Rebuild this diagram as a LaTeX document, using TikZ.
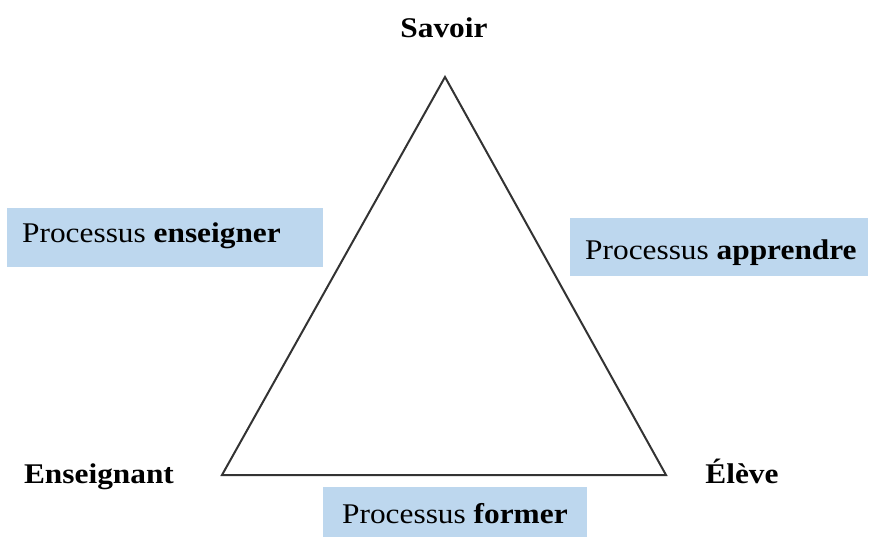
\documentclass[tikz,border=0pt]{standalone}
\usepackage{fontspec}
\setmainfont[FakeStretch=1.1]{Liberation Serif}
\definecolor{boxblue}{HTML}{BDD7EE}
\begin{document}
\begin{tikzpicture}[x=1pt,y=-1pt,
  procbox/.style={fill=boxblue, draw=none, inner sep=0pt, anchor=north west},
  lbl/.style={font=\fontsize{28.5}{32}\selectfont, inner sep=0pt, anchor=base west},
  vlbl/.style={font=\fontsize{28.5}{32}\selectfont\bfseries, inner sep=0pt, anchor=base},
  edge/.style={line width=2pt, draw=black!80, line join=miter}]
\useasboundingbox (0,0) rectangle (873,537);
% triangle vertices
\coordinate (S) at (445,77);
\coordinate (E) at (222,475);
\coordinate (L) at (666,475);
\draw[edge] (S) -- (E) -- (L) -- cycle;
% vertex labels
\node[vlbl] (savoir) at (444,38) {Savoir};
\node[vlbl] (ens) at (99,483) {Enseignant};
\node[vlbl] (eleve) at (742,483) {Élève};
% process boxes
\node[procbox, minimum width=316pt, minimum height=59pt] (b1) at (7,208) {};
\node[procbox, minimum width=298pt, minimum height=58pt] (b2) at (570,218) {};
\node[procbox, minimum width=264pt, minimum height=52pt] (b3) at (323,487) {};
\node[lbl] (t1) at (22,243) {Processus \textbf{enseigner}};
\node[lbl] (t2) at (585,260) {Processus \textbf{apprendre}};
\node[lbl] (t3) at (342,523) {Processus \textbf{former}};
\end{tikzpicture}
\end{document}
